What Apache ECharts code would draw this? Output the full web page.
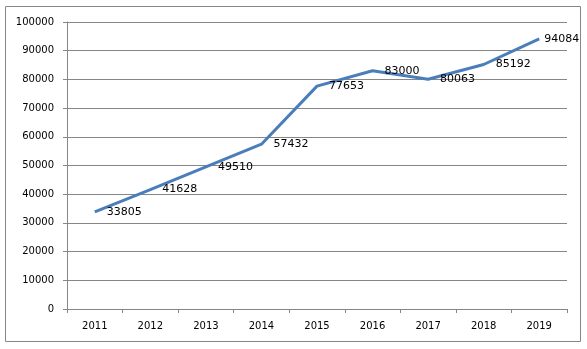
<!DOCTYPE html>
<html>
<head>
<meta charset="utf-8">
<script src="https://cdn.jsdelivr.net/npm/echarts@6/dist/echarts.min.js"></script>
<style>
  html, body { margin: 0; padding: 0; background: #ffffff; }
  #chart { width: 587px; height: 349px; }
</style>
</head>
<body>
<div id="chart"></div>
<script>
// Yearly totals, 2011–2019
const years = ['2011', '2012', '2013', '2014', '2015', '2016', '2017', '2018', '2019'];
const totals = [33805, 41628, 49510, 57432, 77653, 83000, 80063, 85192, 94084];

const yMin = 0;
const yMax = 100000;
const yStep = 10000;

const chart = echarts.init(document.getElementById('chart'), null, { renderer: 'canvas' });

// The last label sits closer to its point so it stays inside the frame
const seriesData = totals.map((v, i) =>
  i === totals.length - 1 ? { value: v, label: { distance: 4 } } : v
);

chart.setOption({
  animation: false,
  backgroundColor: '#ffffff',
  graphic: [{
    type: 'rect',
    shape: { x: 5.5, y: 6.5, width: 575, height: 335 },
    style: { fill: 'none', stroke: '#868686', lineWidth: 1 },
    silent: true
  }],
  grid: { left: 67, right: 20, top: 22, bottom: 40 },
  xAxis: {
    type: 'category',
    data: years,
    boundaryGap: true,
    axisLine: { lineStyle: { color: '#868686', width: 1 } },
    axisTick: { show: true, inside: false, length: 4, alignWithLabel: false, lineStyle: { color: '#868686' } },
    axisLabel: { color: '#000000', fontFamily: 'DejaVu Sans', fontSize: 10, margin: 12 },
    splitLine: { show: false }
  },
  yAxis: {
    type: 'value',
    min: yMin,
    max: yMax,
    interval: yStep,
    axisLine: { show: true, lineStyle: { color: '#868686', width: 1 } },
    axisTick: { show: true, length: 4, lineStyle: { color: '#868686' } },
    axisLabel: {
      color: '#000000', fontFamily: 'DejaVu Sans', fontSize: 10, margin: 13,
      formatter: (v) => String(v)
    },
    splitLine: { show: true, lineStyle: { color: '#868686', width: 1 } }
  },
  series: [{
    type: 'line',
    data: seriesData,
    symbol: 'circle',
    symbolSize: 2,
    showSymbol: true,
    itemStyle: { color: 'rgba(74,126,187,0)', borderWidth: 0 },
    smooth: false,
    lineStyle: { color: '#4a7ebb', width: 3 },
    labelLayout: { hideOverlap: false },
    label: {
      show: true,
      position: 'right',
      distance: 11,
      color: '#000000',
      fontFamily: 'DejaVu Sans',
      fontSize: 11
    }
  }]
});
</script>
</body>
</html>
